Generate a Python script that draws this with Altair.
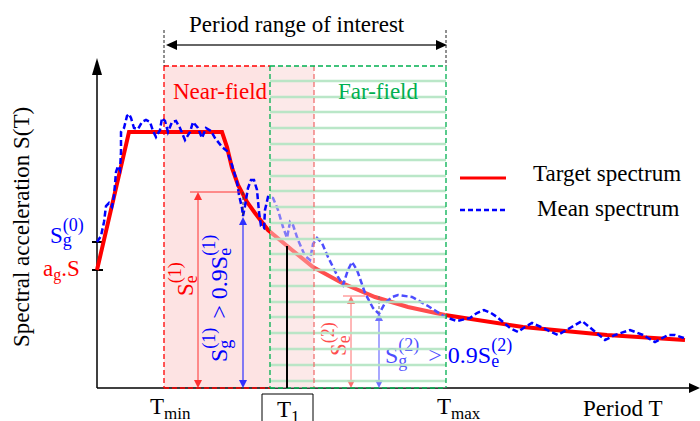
import math
import altair as alt
import pandas as pd

FONT = "Liberation Serif"
RED = "#ff0000"
BLUE = "#0000ff"
GREEN = "#00b050"

# ---------------- data (schematic units: T to the right, S measured downward on the sheet) -----
target_T = [97, 129, 222, 227, 232, 238, 247, 255, 268, 292, 313, 342, 375, 408, 445, 523, 607, 685]
target_S = [270, 132, 132, 147, 168, 185, 202, 213, 230, 250, 267, 283, 297, 307, 315, 327, 335, 340]

mean_T = [97, 101, 104, 106, 109, 112, 114, 116, 118, 120,
          121, 121, 124, 127, 129, 131, 134, 138, 142, 146,
          150, 153, 156, 160, 162, 165, 168, 172, 176, 180,
          185, 190, 193, 198, 202, 206, 211, 215, 222, 227,
          232, 237, 239, 242, 243, 245, 248, 251, 254, 257,
          259, 261, 264, 265, 268, 273, 278, 283, 287, 290,
          293, 298, 305, 310, 313, 317, 322, 328, 338, 343,
          348, 352, 357, 365, 373, 379, 385, 392, 398, 412,
          428, 445, 457, 470, 477, 484, 491, 497, 510, 518,
          525, 532, 543, 558, 570, 582, 593, 605, 615, 630,
          643, 655, 668, 675, 684]
mean_S = [242, 236, 222, 206, 203, 207, 196, 172, 166, 170,
          152, 132, 128, 116, 114, 118, 128, 129, 122, 120,
          122, 131, 137, 130, 118, 121, 132, 122, 121, 128,
          140, 132, 122, 128, 138, 128, 131, 138, 147, 151,
          165, 182, 195, 208, 216, 206, 188, 180, 180, 190,
          212, 226, 228, 210, 197, 198, 210, 227, 238, 222,
          225, 240, 256, 260, 244, 238, 243, 257, 277, 285,
          270, 262, 270, 293, 308, 314, 303, 297, 295, 297,
          306, 317, 321, 318, 313, 310, 313, 317, 328, 332,
          327, 323, 328, 335, 328, 321, 330, 340, 335, 330,
          335, 342, 335, 335, 338]

# key periods / levels of the schematic
T_axis, S_axis = 97, 388
T_min, T_far0, T_1, T_near1, T_max = 164, 270, 287, 314, 446
S_box_top, S_T1 = 66, 246
S_ag, S_g0 = 270, 242
T_se1, S_e1, T_sg1, S_g1 = 198, 192, 243, 217
T_se2, S_e2, T_sg2, S_g2 = 351, 296, 379, 313
stripe_S = [81, 97, 112, 128, 144, 160, 176, 191, 207, 223, 239, 254, 270, 286, 302, 317, 333, 349, 365, 381]

# ---------------- encodings ---------------------------------------------------------------
X = alt.X("x:Q", scale=alt.Scale(domain=[0, 700], nice=False, zero=False), axis=None)
Y = alt.Y("y:Q", scale=alt.Scale(domain=[0, 421], reverse=True, nice=False, zero=False), axis=None)
X2 = alt.X2("x2:Q")
Y2 = alt.Y2("y2:Q")


def rules(rows, color, width, dash=None, opacity=1.0):
    df = pd.DataFrame(rows, columns=["x", "y", "x2", "y2"])
    kw = dict(color=color, strokeWidth=width, opacity=opacity)
    if dash:
        kw["strokeDash"] = dash
    return alt.Chart(df).mark_rule(**kw).encode(x=X, y=Y, x2=X2, y2=Y2)


def rect(rows, color, opacity=1.0):
    df = pd.DataFrame(rows, columns=["x", "y", "x2", "y2"])
    return alt.Chart(df).mark_rect(color=color, opacity=opacity).encode(x=X, y=Y, x2=X2, y2=Y2)


def curve(ts, ss, color, width, dash=None):
    df = pd.DataFrame({"x": ts, "y": ss, "i": range(len(ts))})
    kw = dict(color=color, strokeWidth=width)
    if dash:
        kw["strokeDash"] = dash
    return alt.Chart(df).mark_line(**kw).encode(x=X, y=Y, order="i:Q")


def heads(rows, path, color):
    df = pd.DataFrame(rows, columns=["x", "y"])
    return alt.Chart(df).mark_point(shape=path, size=4, filled=True, color=color, opacity=1,
                                    strokeWidth=0).encode(x=X, y=Y)


WID = {"S": .556, "e": .444, "g": .5, "(": .333, ")": .333, "0": .5, "1": .5, "2": .5, ">": .564,
       " ": .25, ".": .25, "9": .5, "T": .611, "m": .778, "i": .278, "n": .5, "a": .444, "x": .5}


def tw(s, size):
    return sum(WID.get(c, .5) for c in s) * size


def rich(x, y, runs, color, angle=0):
    th = math.radians(angle)
    d = (round(math.cos(th), 6), round(math.sin(th), 6))
    n = (-d[1], d[0])
    pos, rows = 0.0, []
    for run in runs:
        if run[0] == "t":
            _, txt, size = run
            rows.append((x + d[0] * pos, y + d[1] * pos, txt, size, angle, color))
            pos += tw(txt, size)
        elif run[0] == "gap":
            pos += run[1]
        else:
            _, sub, sup, size, sbs, sps = run
            adv = 0
            for txt, sh in ((sub, sbs), (sup, sps)):
                if txt:
                    rows.append((x + d[0] * pos + n[0] * sh, y + d[1] * pos + n[1] * sh, txt, size, angle, color))
                    adv = max(adv, tw(txt, size))
            pos += adv
    return rows


def texts(rows):
    df = pd.DataFrame(rows, columns=["x", "y", "text", "size", "angle", "color"])
    return alt.Chart(df).mark_text(font=FONT, align="left", baseline="alphabetic").encode(
        x=X, y=Y, text="text:N",
        size=alt.Size("size:Q", scale=None),
        angle=alt.Angle("angle:Q", scale=None),
        color=alt.Color("color:N", scale=None),
    )


UP = "M0,0L4,8L-4,8Z"
DOWN = "M0,0L4,-8L-4,-8Z"
PINK = "#fde3e3"

layers = []
# near-field shading
layers.append(rect([(T_min, S_box_top, T_near1, S_axis)], PINK))
# axes
layers.append(rules([(T_axis, S_axis, T_axis, 72), (T_axis, S_axis, 690, S_axis)], "black", 1.5))
layers.append(rules([(92, S_g0, 103, S_g0), (92, S_ag, 103, S_ag)], "black", 2))
# spectra
layers.append(curve(target_T, target_S, RED, 4))
layers.append(curve(mean_T, mean_S, BLUE, 2.5, [6, 3]))
# annotations (inside region)
layers.append(rules([(190, S_e1, 240, S_e1), (T_se1, S_e1 + 4, T_se1, S_axis - 4),
                     (343, S_e2, 365, S_e2), (T_se2, S_e2 + 4, T_se2, S_axis - 4)], "#ff3030", 1))
layers.append(rules([(T_sg1, S_g1 + 4, T_sg1, S_axis - 4), (T_sg2, S_g2 + 4, T_sg2, S_axis - 4)], "#3030ff", 1.2))
layers.append(rules([(T_sg1, S_e1, T_sg1, S_g1), (T_sg2, S_e2, T_sg2, S_g2)], "#333333", 1, [3, 2]))
layers.append(heads([(T_se1, S_e1), (T_se2, S_e2)], UP, "#ff3030"))
layers.append(heads([(T_se1, S_axis), (T_se2, S_axis)], DOWN, "#ff3030"))
layers.append(heads([(T_sg1, S_g1), (T_sg2, S_g2)], UP, "#3030ff"))
layers.append(heads([(T_sg1, S_axis), (T_sg2, S_axis)], DOWN, "#3030ff"))

SUB, SUP = 4, -12
inner = []
inner += rich(193, 296, [("t", "S", 23), ("ss", "e", "(1)", 18, SUB, SUP)], RED, 270)
inner += rich(227, 362, [("t", "S", 24), ("ss", "g", "(1)", 18, SUB, SUP), ("gap", 9), ("t", "> 0.9S", 24),
                         ("ss", "e", "(1)", 18, SUB, SUP)], BLUE, 270)
inner += rich(346, 356, [("t", "S", 23), ("ss", "e", "(2)", 18, SUB, SUP)], RED, 270)
inner += rich(385, 363, [("t", "S", 24), ("ss", "g", "(2)", 18, SUB, SUP), ("gap", 9), ("t", "> 0.9S", 24),
                         ("ss", "e", "(2)", 18, SUB, SUP)], BLUE, 0)
layers.append(texts(inner))

# far-field fading + stripes
layers.append(rect([(T_far0, S_box_top, T_max, S_axis)], "white", 0.3))
layers.append(rect([(T_far0, S_box_top, T_near1, S_axis)], PINK, 0.3))
layers.append(rules([(T_far0, s, T_max, s) for s in stripe_S], "#b2e4c2", 2.5, opacity=0.9))
# borders
layers.append(rules([(T_min, S_box_top, T_min, S_axis), (T_min, S_box_top, T_far0, S_box_top),
                     (T_min, S_axis, T_far0, S_axis)], RED, 1.3, [5, 3]))
layers.append(rules([(T_near1, S_box_top, T_near1, S_axis)], "#f07070", 1.3, [5, 3]))
layers.append(rules([(T_far0, S_box_top, T_max, S_box_top), (T_far0, S_box_top, T_far0, S_axis),
                     (T_max, S_box_top, T_max, S_axis), (T_far0, S_axis, T_max, S_axis)], GREEN, 1.3, [5, 3]))
# T1 marker
layers.append(rules([(T_1, S_T1, T_1, S_axis)], "black", 2))
box = pd.DataFrame([(262, 394, 313, 432)], columns=["x", "y", "x2", "y2"])
layers.append(alt.Chart(box).mark_rect(fillOpacity=0, stroke="black", strokeWidth=1).encode(x=X, y=Y, x2=X2, y2=Y2))
# period-range arrow
layers.append(rules([(T_min, 30, T_min, S_box_top), (T_max, 30, T_max, S_box_top)], "#222222", 1, [3, 2]))
layers.append(rules([(170, 45, 440, 45)], "#333333", 1.5))
layers.append(heads([(T_min + 2, 45)], "M0,0L11,-5L11,5Z", "black"))
layers.append(heads([(T_max + 1, 45)], "M0,0L-11,-5L-11,5Z", "black"))
# axis arrow heads
layers.append(heads([(T_axis, 58)], "M0,0L5,17L-5,17Z", "black"))
layers.append(heads([(700, S_axis)], "M0,0L-11,-5L-11,5Z", "black"))
# legend
layers.append(rules([(460, 178, 506, 178)], RED, 3))
layers.append(rules([(460, 210, 506, 210)], BLUE, 2.5, [5, 3]))

outer = []
outer += rich(189, 32, [("t", "Period range of interest", 23)], "black")
outer += rich(173, 99, [("t", "Near-field", 23)], RED)
outer += rich(338, 99, [("t", "Far-field", 23)], GREEN)
outer += rich(533, 181, [("t", "Target spectrum", 23)], "black")
outer += rich(537, 216, [("t", "Mean spectrum", 23)], "black")
outer += rich(583, 416, [("t", "Period T", 23)], "black")
outer += rich(29, 347, [("t", "Spectral acceleration S(T)", 23)], "black", 270)
outer += rich(50, 243, [("t", "S", 23), ("ss", "g", "(0)", 18, 3, -12)], BLUE)
outer += rich(43, 276, [("t", "a", 23), ("ss", "g", "", 16, 4, 0), ("t", ".S", 23)], RED)
outer += rich(150, 414, [("t", "T", 23), ("ss", "min", "", 17, 5, 0)], "black")
outer += rich(437, 414, [("t", "T", 23), ("ss", "max", "", 17, 5, 0)], "black")
outer += rich(277, 417, [("t", "T", 23), ("ss", "1", "", 17, 5, 0)], "black")
layers.append(texts(outer))

chart = alt.layer(*layers).properties(
    width=700, height=421, autosize=alt.AutoSizeParams(type="none"), padding=0
).configure_view(stroke=None)

chart.save("out.html", embed_options={"renderer": "svg", "actions": False})
